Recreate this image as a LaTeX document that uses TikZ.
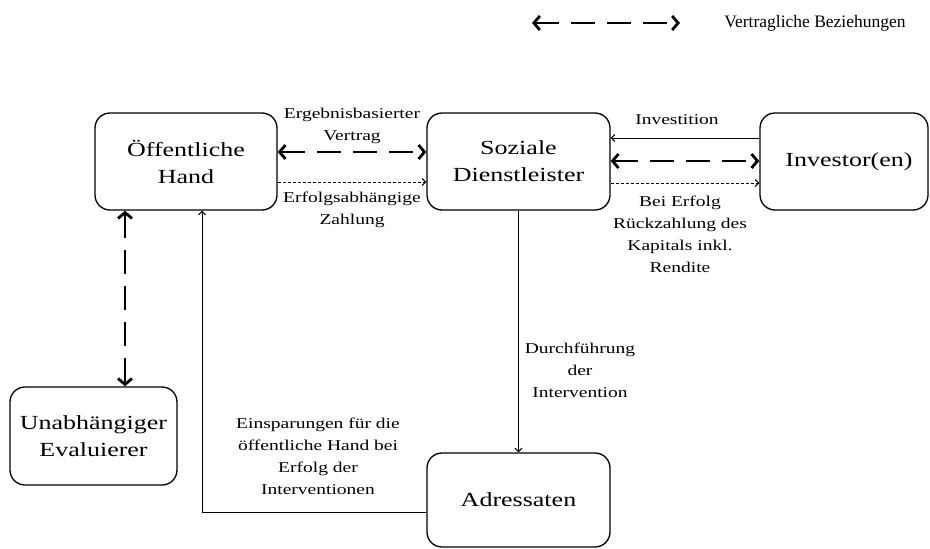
\documentclass[tikz,border=0pt]{standalone}
\usepackage{fontspec}
\setmainfont{Liberation Serif}[FakeStretch=1.3]
\newfontfamily\legfont{Liberation Serif}
\usetikzlibrary{arrows.meta}
\tikzset{
  box/.style={draw, line width=1.3pt, rounded corners=15pt, align=center,
    font=\fontsize{20}{27}\selectfont, inner sep=0pt},
  lbl/.style={align=center, font=\fontsize{15}{22}\selectfont, inner sep=0pt},
  big/.style={line width=2.8pt, dash pattern=on 24pt off 12pt,
    {Straight Barb[length=6pt,width=14pt]}-{Straight Barb[length=6pt,width=14pt]}},
  thin/.style={line width=1pt, -{Straight Barb[length=3.5pt,width=7pt]}},
  dotarr/.style={thin, dash pattern=on 3pt off 2pt},
}
\begin{document}
\begin{tikzpicture}[x=1pt,y=-1pt]
\useasboundingbox (0,0) rectangle (930,549);
% boxes
\node[box, minimum width=182pt, minimum height=97pt] (oh) at (186,161.5) {Öffentliche\\Hand};
\node[box, minimum width=183pt, minimum height=97pt] (sd) at (518.5,161.5) {Soziale\\Dienstleister};
\node[box, minimum width=168pt, minimum height=97pt] (inv) at (844,161.5) {\hspace*{10pt}Investor(en)};
\node[box, minimum width=167pt, minimum height=98pt] (ev) at (93.5,436) {Unabhängiger\\Evaluierer};
\node[box, minimum width=183pt, minimum height=94pt] (ad) at (518.5,500) {Adressaten};
% legend
\coordinate (l1) at (532,23);
\coordinate (l2) at (680,23);
\draw[big] (l1) -- (l2);
\node[inner sep=0pt, font=\legfont\fontsize{17.5}{19}\selectfont] (lt) at (815,23) {Vertragliche Beziehungen};
% connectors oh - sd
\draw[big] (oh.east |- 0,152) -- (sd.west |- 0,152);
\draw[dotarr] (oh.east |- 0,182) -- (sd.west |- 0,182);
\node[lbl] (l_erg) at (352,126) {Ergebnisbasierter\\Vertrag};
\node[lbl] (l_zahl) at (352,210) {Erfolgsabhängige\\Zahlung};
% sd - inv
\draw[thin] (inv.west |- 0,138) -- (sd.east |- 0,138);
\draw[big] (sd.east |- 0,161) -- (inv.west |- 0,161);
\draw[dotarr] (sd.east |- 0,183) -- (inv.west |- 0,183);
\node[lbl] (l_inv) at (677,120) {Investition};
\node[lbl] (l_rueck) at (680,234) {Bei Erfolg\\Rückzahlung des\\Kapitals inkl.\\Rendite};
% sd - ad
\draw[thin] (sd.south) -- (ad.north);
\node[lbl] (l_durch) at (580,370) {Durchführung\\der\\Intervention};
% ad - oh
\draw[thin] (ad.west |- 0,512) -| (oh.south -| 202,0);
\node[lbl] (l_ein) at (318,456) {Einsparungen für die\\öffentliche Hand bei\\Erfolg der\\Interventionen};
% oh - ev
\draw[big] (oh.south -| 125,0) -- (ev.north -| 125,0);
\end{tikzpicture}
\end{document}
